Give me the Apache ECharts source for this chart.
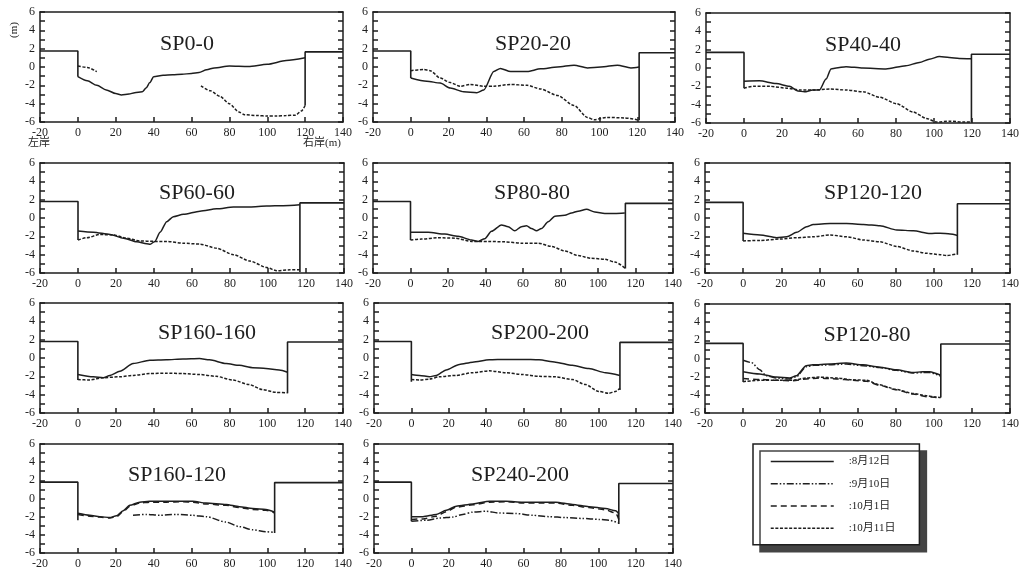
<!DOCTYPE html>
<html>
<head>
<meta charset="utf-8">
<script src="https://cdn.jsdelivr.net/npm/echarts@6/dist/echarts.min.js"></script>
<style>
  html, body { margin: 0; padding: 0; background: #fff; }
  #main { width: 1022px; height: 570px; background: #fff; }
</style>
</head>
<body>
<div id="main"></div>
<script>
// axis ranges
var xRange = [-20, 140];
var yRange = [-6, 6];
var legendNames = ['8月12日', '9月10日', '10月1日', '10月11日'];
var titles = ['SP0-0', 'SP20-20', 'SP40-40', 'SP60-60', 'SP80-80', 'SP120-120',
              'SP160-160', 'SP200-200', 'SP120-80', 'SP160-120', 'SP240-200'];

// SP0-0
var sp0_bankL = [[-20, 1.75], [0, 1.75], [0, -1.05]];
var sp0_bankR = [[120, -4.2], [120, 1.65], [140, 1.65]];
var sp0_aug12 = [[0, -1.05], [5, -1.5], [10, -2.0], [15, -2.5], [20, -2.9], [23, -3.05], [27, -2.95], [30, -2.8], [34, -2.7], [36, -2.3], [38, -1.7], [40, -1.05], [45, -0.9], [50, -0.85], [55, -0.8], [60, -0.7], [64, -0.6], [68, -0.3], [72, -0.1], [80, 0.1], [90, 0.05], [100, 0.3], [110, 0.7], [120, 1.0]];
var sp0_oct11a = [[0, 0.1], [5, -0.05], [10, -0.5]];
var sp0_oct11b = [[65, -2.05], [70, -2.6], [75, -3.2], [80, -4.0], [85, -4.9], [88, -5.2], [95, -5.3], [100, -5.35], [105, -5.35], [110, -5.3], [115, -5.25], [118, -4.8], [120, -4.2]];

// SP20-20
var sp20_bankL = [[-20, 1.75], [0, 1.75], [0, -1.2]];
var sp20_bankR = [[121, -5.8], [121, 1.55], [140, 1.55]];
var sp20_aug12 = [[0, -1.2], [8.5, -1.55], [15.6, -1.75], [20.9, -2.3], [28, -2.7], [35, -2.8], [38.7, -2.5], [44, -0.5], [47.5, -0.15], [52.9, -0.5], [61.7, -0.5], [68.8, -0.2], [77.7, 0], [86.5, 0.2], [93.6, -0.1], [100.7, 0], [109.5, 0.2], [116.6, -0.1], [121, 0]];
var sp20_oct11 = [[0, -0.4], [6.8, -0.27], [10.3, -0.4], [15.6, -1.2], [20.9, -1.7], [26.2, -2.1], [31.5, -1.9], [38.6, -2.1], [44, -2.1], [52.9, -1.9], [61.7, -2.0], [68.8, -2.4], [77.7, -3.1], [86.5, -4.2], [93.6, -5.5], [97.2, -5.75], [104, -5.5], [113, -5.55], [121, -5.8]];

// SP40-40
var sp40_bankL = [[-20, 1.7], [0, 1.7], [0, -2.2]];
var sp40_bankR = [[119.7, -5.9], [119.7, 1.5], [140, 1.5]];
var sp40_aug12 = [[0, -1.45], [8.1, -1.4], [16.9, -1.7], [23.9, -2.0], [28.3, -2.5], [31.8, -2.6], [36.2, -2.4], [39.7, -2.4], [43.2, -1.2], [45.8, -0.1], [48.5, 0], [53.7, 0.15], [62.5, 0], [74.7, -0.1], [85.2, 0.25], [92.3, 0.6], [97.5, 0.95], [102.8, 1.25], [108, 1.15], [113.3, 1.05], [119.7, 1.0]];
var sp40_oct11 = [[0, -2.2], [4.9, -2.0], [13.7, -2.0], [22.5, -2.2], [29.5, -2.4], [36.5, -2.4], [45.3, -2.3], [54, -2.4], [62.8, -2.6], [71.5, -3.2], [80.3, -3.9], [89, -4.8], [96, -5.5], [101.3, -5.9], [108.3, -5.8], [115.3, -5.9], [119.7, -5.9]];

// SP60-60
var sp60_bankL = [[-20, 1.8], [0, 1.8], [0, -2.4]];
var sp60_bankR = [[116.8, -5.9], [116.8, 1.65], [140, 1.65]];
var sp60_aug12 = [[0, -1.42], [8.1, -1.55], [16.9, -1.8], [24, -2.2], [31, -2.6], [36.2, -2.8], [38, -2.85], [40.5, -2.55], [43.2, -1.55], [46.7, -0.4], [50.2, 0.15], [55.5, 0.4], [64.2, 0.75], [73, 1.0], [81.8, 1.2], [90.5, 1.2], [99.3, 1.3], [108, 1.35], [116.8, 1.45]];
var sp60_oct11 = [[0, -2.4], [4.6, -2.15], [11.6, -1.8], [18.6, -1.85], [25.6, -2.2], [32.6, -2.5], [39.6, -2.55], [46.7, -2.55], [55.4, -2.75], [64.2, -2.85], [73, -3.3], [81.8, -4.0], [90.5, -4.7], [99.3, -5.4], [104.6, -5.75], [111.6, -5.65], [116.8, -5.65]];

// SP80-80
var sp80_bankL = [[-20, 1.8], [0, 1.8], [0, -2.4]];
var sp80_bankR = [[114.6, -5.5], [114.6, 1.6], [140, 1.6]];
var sp80_aug12 = [[0, -1.56], [9.4, -1.56], [18.3, -1.75], [25.4, -2.0], [32.5, -2.4], [36.1, -2.55], [39.6, -2.25], [43.2, -1.45], [48.5, -0.75], [52.1, -0.95], [55.6, -1.4], [59.2, -0.95], [61.9, -0.85], [64.5, -1.15], [67.2, -1.4], [69.9, -1.15], [73.4, -0.4], [77, 0.2], [82.3, 0.3], [85.9, 0.55], [89.4, 0.75], [93.9, 0.95], [98.3, 0.65], [103.6, 0.5], [109, 0.5], [114.3, 0.55]];
var sp80_oct11 = [[0, -2.4], [5.9, -2.3], [14.8, -2.15], [23.7, -2.2], [32.6, -2.55], [41.5, -2.55], [50.4, -2.6], [59.2, -2.75], [68.1, -2.75], [75.2, -3.1], [82.3, -3.6], [89.4, -4.1], [96.5, -4.4], [103.6, -4.5], [109, -4.8], [114.6, -5.5]];

// SP120-120
var sp120_bankL = [[-20, 1.7], [0, 1.7], [0, -2.5]];
var sp120_bankR = [[112.4, -4.0], [112.4, 1.55], [140, 1.55]];
var sp120_aug12 = [[0, -1.67], [8.9, -1.85], [17.6, -2.15], [22.9, -2.05], [28.1, -1.56], [33.3, -0.95], [36.8, -0.7], [45.6, -0.6], [54.3, -0.6], [63.1, -0.7], [71.8, -0.85], [80.6, -1.3], [89.3, -1.4], [98.1, -1.7], [103.3, -1.65], [108.6, -1.75], [112.4, -1.9]];
var sp120_oct11 = [[0, -2.5], [8.9, -2.45], [19.4, -2.3], [28.1, -2.15], [36.8, -2.05], [45.6, -1.85], [54.3, -2.05], [63.1, -2.4], [71.8, -2.6], [80.6, -3.1], [89.3, -3.6], [96.3, -3.85], [103.3, -4.0], [106.8, -4.1], [112.4, -3.9]];

// SP160-160
var sp160_bankL = [[-20, 1.8], [0, 1.8], [0, -2.4]];
var sp160_bankR = [[110.7, -3.85], [110.7, 1.75], [140, 1.75]];
var sp160_aug12 = [[0, -1.8], [8.1, -2.05], [13.4, -2.15], [16.9, -1.9], [22.2, -1.45], [29.2, -0.6], [38, -0.25], [46.7, -0.2], [55.5, -0.1], [64.2, -0.05], [69.5, -0.2], [78.3, -0.6], [85.3, -0.8], [92.3, -1.05], [99.3, -1.15], [106.3, -1.3], [110.7, -1.55]];
var sp160_oct11 = [[0, -2.35], [6.3, -2.4], [13.3, -2.15], [22.2, -2.05], [29.2, -1.9], [38, -1.7], [46.7, -1.65], [55.5, -1.7], [64.2, -1.8], [73, -2.0], [81.8, -2.4], [90.5, -2.9], [97.5, -3.45], [104.5, -3.75], [110.7, -3.8]];

// SP200-200
var sp200_bankL = [[-20, 1.8], [0, 1.8], [0, -2.6]];
var sp200_bankR = [[111.6, -3.5], [111.6, 1.7], [140, 1.7]];
var sp200_aug12 = [[0, -1.8], [4.4, -1.9], [9.7, -2.05], [13.3, -1.9], [18.6, -1.3], [25.7, -0.7], [32.8, -0.45], [41.7, -0.2], [50.5, -0.15], [59.4, -0.15], [68.3, -0.2], [77.2, -0.45], [86.1, -0.8], [95, -1.15], [103.9, -1.6], [111.6, -1.9]];
var sp200_oct11 = [[0, -2.35], [4.4, -2.4], [9.7, -2.3], [15, -2.05], [23.9, -1.9], [32.8, -1.6], [41.7, -1.4], [50.5, -1.6], [59.4, -1.8], [68.3, -2.0], [77.2, -2.05], [86.1, -2.35], [93.2, -2.9], [100.3, -3.65], [105.6, -3.85], [109.2, -3.65], [111.6, -3.3]];

// SP120-80
var sp12080_bankL = [[-20, 1.66], [0, 1.66], [0, -2.6]];
var sp12080_bankR = [[103.7, -4.3], [103.7, 1.6], [140, 1.6]];
var sp12080_aug12 = [[0, -1.45], [8.7, -1.7], [17.4, -2.05], [24.4, -2.15], [27.9, -1.9], [33.1, -0.8], [36.6, -0.7], [45.4, -0.6], [54.1, -0.5], [62.9, -0.7], [71.6, -0.95], [80.3, -1.25], [89.1, -1.55], [94.3, -1.45], [97.8, -1.45], [103.7, -1.85]];
var sp12080_sep10 = [[0, -0.2], [4.4, -0.45], [8.7, -1.25], [12.2, -1.9], [17.4, -2.15], [24.4, -2.25], [28, -2.0], [33.1, -0.9], [37, -0.75], [45.4, -0.7], [54.1, -0.6], [62.9, -0.8], [71.6, -1.0], [80.3, -1.3], [89.1, -1.6], [94.3, -1.55], [97.8, -1.55], [103.7, -1.95]];
var sp12080_oct1 = [[0, -2.2], [8.7, -2.3], [17.4, -2.4], [26.1, -2.45], [33.1, -2.25], [40.1, -2.15], [48.9, -2.25], [57.6, -2.4], [64.6, -2.5], [71.6, -2.95], [80.3, -3.45], [89.1, -3.9], [96.1, -4.2], [101.3, -4.3], [103.7, -4.2]];
var sp12080_oct11 = [[0, -2.55], [8.7, -2.4], [17.4, -2.4], [26.1, -2.4], [33.1, -2.15], [40.1, -2.05], [48.9, -2.15], [57.6, -2.35], [64.6, -2.4], [71.6, -2.9], [80.3, -3.4], [89.1, -3.85], [96.1, -4.1], [101.3, -4.25], [103.7, -4.3]];

// SP160-120
var sp160120_bankL = [[-20, 1.8], [0, 1.8], [0, -2.4]];
var sp160120_bankR = [[103.9, -3.8], [103.9, 1.75], [140, 1.75]];
var sp160120_aug12 = [[0, -1.63], [6.3, -1.85], [11.6, -2.0], [16.9, -2.1], [20.4, -1.9], [23.9, -1.35], [27.4, -0.75], [32.6, -0.4], [37.9, -0.3], [46.7, -0.3], [55.5, -0.3], [60.7, -0.3], [67.7, -0.5], [78.3, -0.65], [85.3, -0.9], [92.3, -1.1], [99.3, -1.2], [103.9, -1.5]];
var sp160120_oct1 = [[0, -1.75], [6.3, -1.95], [11.6, -2.05], [16.9, -2.15], [20.4, -2.0], [23.9, -1.45], [27.4, -0.85], [32.6, -0.5], [37.9, -0.4], [46.7, -0.4], [55.5, -0.35], [60.7, -0.4], [67.7, -0.6], [78.3, -0.75], [85.3, -1.0], [92.3, -1.2], [99.3, -1.3], [103.9, -1.6]];
var sp160120_sep10 = [[29.1, -1.85], [36.1, -1.75], [43.2, -1.85], [51.9, -1.75], [60.7, -1.85], [67.7, -2.0], [78.3, -2.6], [85.3, -3.1], [92.3, -3.45], [99.3, -3.65], [103.9, -3.75]];

// SP240-200
var sp240_bankL = [[-20, 1.8], [0, 1.8], [0, -2.5]];
var sp240_bankR = [[111, -2.8], [111, 1.65], [140, 1.65]];
var sp240_aug12 = [[0, -2.0], [6.2, -2.0], [13.3, -1.75], [18.7, -1.3], [24, -0.85], [32.9, -0.6], [41.8, -0.3], [50.7, -0.3], [59.5, -0.4], [68.4, -0.4], [77.3, -0.4], [86.2, -0.65], [95, -0.9], [103.9, -1.1], [109.3, -1.35], [111, -1.7]];
var sp240_oct1 = [[0, -2.3], [6.2, -2.25], [13.3, -1.95], [18.7, -1.45], [24, -0.95], [32.9, -0.7], [41.8, -0.4], [50.7, -0.35], [59.5, -0.5], [68.4, -0.5], [77.3, -0.5], [86.2, -0.75], [95, -1.0], [103.9, -1.25], [109.3, -1.6], [111, -2.3]];
var sp240_sep10 = [[0, -2.5], [8, -2.4], [15.1, -2.15], [22.2, -2.05], [27.5, -1.75], [32.9, -1.5], [40, -1.4], [47.1, -1.6], [56, -1.65], [64.9, -1.85], [73.7, -2.0], [82.6, -2.1], [91.5, -2.2], [100.4, -2.3], [105.7, -2.4], [111, -2.7]];

var panels = [
  { banks: [sp0_bankL, sp0_bankR], lines: [['8月12日', sp0_aug12], ['10月11日', sp0_oct11a], ['10月11日', sp0_oct11b]] },
  { banks: [sp20_bankL, sp20_bankR], lines: [['8月12日', sp20_aug12], ['10月11日', sp20_oct11]] },
  { banks: [sp40_bankL, sp40_bankR], lines: [['8月12日', sp40_aug12], ['10月11日', sp40_oct11]] },
  { banks: [sp60_bankL, sp60_bankR], lines: [['8月12日', sp60_aug12], ['10月11日', sp60_oct11]] },
  { banks: [sp80_bankL, sp80_bankR], lines: [['8月12日', sp80_aug12], ['10月11日', sp80_oct11]] },
  { banks: [sp120_bankL, sp120_bankR], lines: [['8月12日', sp120_aug12], ['10月11日', sp120_oct11]] },
  { banks: [sp160_bankL, sp160_bankR], lines: [['8月12日', sp160_aug12], ['10月11日', sp160_oct11]] },
  { banks: [sp200_bankL, sp200_bankR], lines: [['8月12日', sp200_aug12], ['10月11日', sp200_oct11]] },
  { banks: [sp12080_bankL, sp12080_bankR], lines: [['8月12日', sp12080_aug12], ['9月10日', sp12080_sep10], ['10月1日', sp12080_oct1], ['10月11日', sp12080_oct11]] },
  { banks: [sp160120_bankL, sp160120_bankR], lines: [['8月12日', sp160120_aug12], ['10月1日', sp160120_oct1], ['9月10日', sp160120_sep10]] },
  { banks: [sp240_bankL, sp240_bankR], lines: [['8月12日', sp240_aug12], ['10月1日', sp240_oct1], ['9月10日', sp240_sep10]] }
];

// grid boxes [left, top, width, height] and title centres
var boxes = [
  [40, 12, 303, 110], [373, 12, 302, 110], [706, 13, 304, 110],
  [40, 163, 304, 110], [373, 163, 300, 110], [705, 163, 305, 110],
  [40, 303, 303, 110], [374, 303, 299, 110], [705, 304, 305, 109],
  [40, 444, 303, 109], [374, 444, 299, 109]
];
var titlePos = [
  [187, 44], [533, 44], [863, 45],
  [197, 193], [532, 193], [873, 193],
  [207, 333], [540, 333], [867, 335],
  [177, 475], [520, 475]
];

var ink = '#1e1e1e';
var serif = '"Liberation Serif", "Noto Sans CJK SC", serif';
var dashes = {
  '8月12日': 'solid',
  '9月10日': [7, 2, 1.5, 2, 1.5, 2],
  '10月1日': [6, 4],
  '10月11日': [3, 1.6]
};

var grid = [], xAxis = [], yAxis = [], series = [], graphic = [];

// label-only axes (no line, no ticks) and tick-only axes kept apart
function labelAxis(kind, i) {
  return {
    type: 'value', gridIndex: i, position: kind === 'x' ? 'bottom' : 'left',
    min: kind === 'x' ? xRange[0] : yRange[0],
    max: kind === 'x' ? xRange[1] : yRange[1],
    interval: kind === 'x' ? 20 : 2,
    axisLine: { show: false, onZero: false },
    axisTick: { show: false },
    splitLine: { show: false },
    axisLabel: { show: true, margin: 5, fontFamily: serif, fontSize: 12, color: ink }
  };
}
function tickAxis(kind, i, pos, ticks) {
  return {
    type: 'value', gridIndex: i, position: pos,
    min: kind === 'x' ? xRange[0] : yRange[0],
    max: kind === 'x' ? xRange[1] : yRange[1],
    interval: kind === 'x' ? 20 : (ticks ? 1 : 2),
    axisLine: { show: true, onZero: false, lineStyle: { color: ink, width: 1.5 } },
    axisTick: { show: ticks, inside: true, length: 5, lineStyle: { color: ink, width: 1.5 } },
    splitLine: { show: false },
    axisLabel: { show: false }
  };
}

panels.forEach(function (p, i) {
  var b = boxes[i];
  grid.push({ left: b[0], top: b[1], width: b[2], height: b[3] });
  var xBase = xAxis.length, yBase = yAxis.length;
  xAxis.push(labelAxis('x', i));
  xAxis.push(tickAxis('x', i, 'bottom', true));
  xAxis.push(tickAxis('x', i, 'top', false));
  yAxis.push(labelAxis('y', i));
  yAxis.push(tickAxis('y', i, 'left', true));
  yAxis.push(tickAxis('y', i, 'right', true));
  p.banks.forEach(function (d) {
    series.push({
      type: 'line', name: 'bank', xAxisIndex: xBase, yAxisIndex: yBase, data: d,
      symbol: 'none', lineStyle: { color: ink, width: 1.6 }
    });
  });
  p.lines.forEach(function (l) {
    series.push({
      type: 'line', name: l[0], xAxisIndex: xBase, yAxisIndex: yBase, data: l[1],
      symbol: 'none', smooth: 0.25, smoothMonotone: 'x',
      lineStyle: { color: ink, width: 1.5, type: dashes[l[0]] }
    });
  });
  graphic.push({
    type: 'text', x: titlePos[i][0], y: titlePos[i][1],
    style: { text: titles[i], font: '22px ' + serif, fill: ink,
             textAlign: 'center', textVerticalAlign: 'middle', align: 'center', verticalAlign: 'middle' }
  });
});

graphic.push(
  { type: 'text', x: 14, y: 30, rotation: Math.PI / 2,
    style: { text: '(m)', font: '11px ' + serif, fill: ink, textAlign: 'center', textVerticalAlign: 'middle', align: 'center', verticalAlign: 'middle' } },
  { type: 'text', x: 28, y: 143,
    style: { text: '左岸', font: '11px ' + serif, fill: ink, textVerticalAlign: 'middle', verticalAlign: 'middle' } },
  { type: 'text', x: 303, y: 143,
    style: { text: '右岸(m)', font: '11px ' + serif, fill: ink, textVerticalAlign: 'middle', verticalAlign: 'middle' } }
);

var myChart = echarts.init(document.getElementById('main'));
var option = {
  animation: false,
  grid: grid,
  xAxis: xAxis,
  yAxis: yAxis,
  legend: {
    data: legendNames,
    selectedMode: false,
    orient: 'vertical',
    left: 753, top: 444,
    padding: [12, 24, 11, 17],
    itemWidth: 63, itemHeight: 14, itemGap: 11,
    itemStyle: { opacity: 0 },
    lineStyle: { width: 1.5 },
    formatter: function (name) { return ':' + name; },
    textStyle: { fontFamily: serif, fontSize: 11, color: ink, padding: [0, 0, 0, 10] },
    backgroundColor: '#fff',
    borderColor: ink, borderWidth: 1.5,
    shadowColor: '#444', shadowBlur: 0, shadowOffsetX: 7, shadowOffsetY: 7
  },
  graphic: graphic,
  series: series
};
myChart.setOption(option);
</script>
</body>
</html>
